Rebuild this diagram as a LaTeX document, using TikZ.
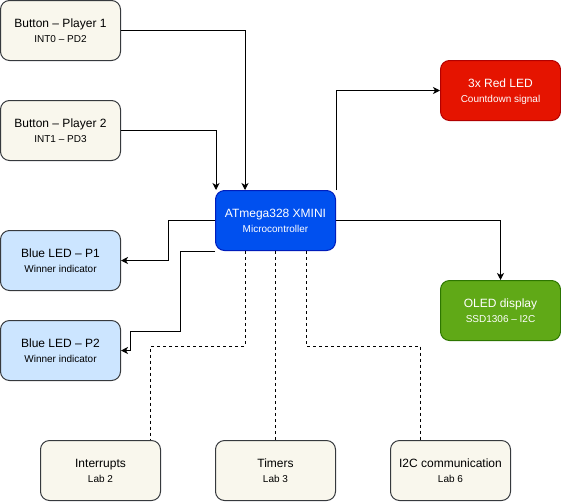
\documentclass[tikz,border=0pt]{standalone}
\usepackage{fontspec}
\setmainfont{Liberation Sans}
\usetikzlibrary{arrows.meta}
\definecolor{beigef}{HTML}{F9F7ED}
\definecolor{greys}{HTML}{36393D}
\definecolor{bluef}{HTML}{CCE5FF}
\definecolor{mcuf}{HTML}{0050EF}
\definecolor{mcus}{HTML}{001DBC}
\definecolor{redf}{HTML}{E51400}
\definecolor{reds}{HTML}{B20000}
\definecolor{greenf}{HTML}{60A917}
\definecolor{greens}{HTML}{2D7600}
\newcommand\mybox[7]{%
  \node[box,#4] (#1) at (#2,#3) {};
  \node[ttl,text=#7] at ([yshift=3pt]#1.center) {#5};
  \node[subt,text=#7] at ([yshift=-12pt]#1.center) {#6};
}
\begin{document}
\begin{tikzpicture}[x=1pt,y=-1pt,
  box/.style={draw, rounded corners=9pt, minimum width=120pt, minimum height=60pt, line width=1pt, inner sep=0pt},
  beigebox/.style={fill=beigef, draw=greys},
  bluebox/.style={fill=bluef, draw=greys},
  mcubox/.style={fill=mcuf, draw=mcus},
  redbox/.style={fill=redf, draw=reds},
  greenbox/.style={fill=greenf, draw=greens},
  ttl/.style={font=\fontsize{12}{14}\selectfont, anchor=base, inner sep=0pt},
  subt/.style={font=\fontsize{10}{12}\selectfont, anchor=base, inner sep=0pt},
  arr/.style={line width=1pt, -{Stealth[length=7pt,width=7pt,inset=2pt]}},
  dsh/.style={line width=1pt, dash pattern=on 3pt off 3pt}
]
\useasboundingbox (0,0) rectangle (561,501);
\mybox{b1}{60.5}{30.5}{beigebox}{Button – Player 1}{INT0 – PD2}{black}
\mybox{b2}{60.5}{130.5}{beigebox}{Button – Player 2}{INT1 – PD3}{black}
\mybox{mcu}{275.5}{220.5}{mcubox}{ATmega328 XMINI}{Microcontroller}{white}
\mybox{red}{500.5}{90.5}{redbox}{3x Red LED}{Countdown signal}{white}
\mybox{oled}{500.5}{310.5}{greenbox}{OLED display}{SSD1306 – I2C}{white}
\mybox{bl1}{60.5}{260.5}{bluebox}{Blue LED – P1}{Winner indicator}{black}
\mybox{bl2}{60.5}{350.5}{bluebox}{Blue LED – P2}{Winner indicator}{black}
\mybox{intr}{100.5}{470.5}{beigebox}{Interrupts}{Lab 2}{black}
\mybox{tim}{275.5}{470.5}{beigebox}{Timers}{Lab 3}{black}
\mybox{i2c}{450.5}{470.5}{beigebox}{I2C communication}{Lab 6}{black}
% solid connectors
\draw[arr] (b1.east) -| ([xshift=30pt]mcu.north west);
\draw[arr] (b2.east) -| ([xshift=1pt]mcu.north west);
\draw[arr] (mcu.north east) |- (red.west);
\draw[arr] (mcu.east) -| (oled.north);
\draw[arr] (mcu.west) -- ++(-47,0) |- (bl1.east);
\draw[arr] (mcu.south west) -- ++(-35,0) -- ++(0,80) -- ++(-50,0) |- (bl2.east);
% dashed connectors
\draw[dsh] ([xshift=30pt]mcu.south west) -- ++(0,95) -| ([xshift=50pt]intr.north);
\draw[dsh] (mcu.south) -- (tim.north);
\draw[dsh] ([xshift=-30pt]mcu.south east) -- ++(0,95) -| ([xshift=-30pt]i2c.north);
\end{tikzpicture}
\end{document}
